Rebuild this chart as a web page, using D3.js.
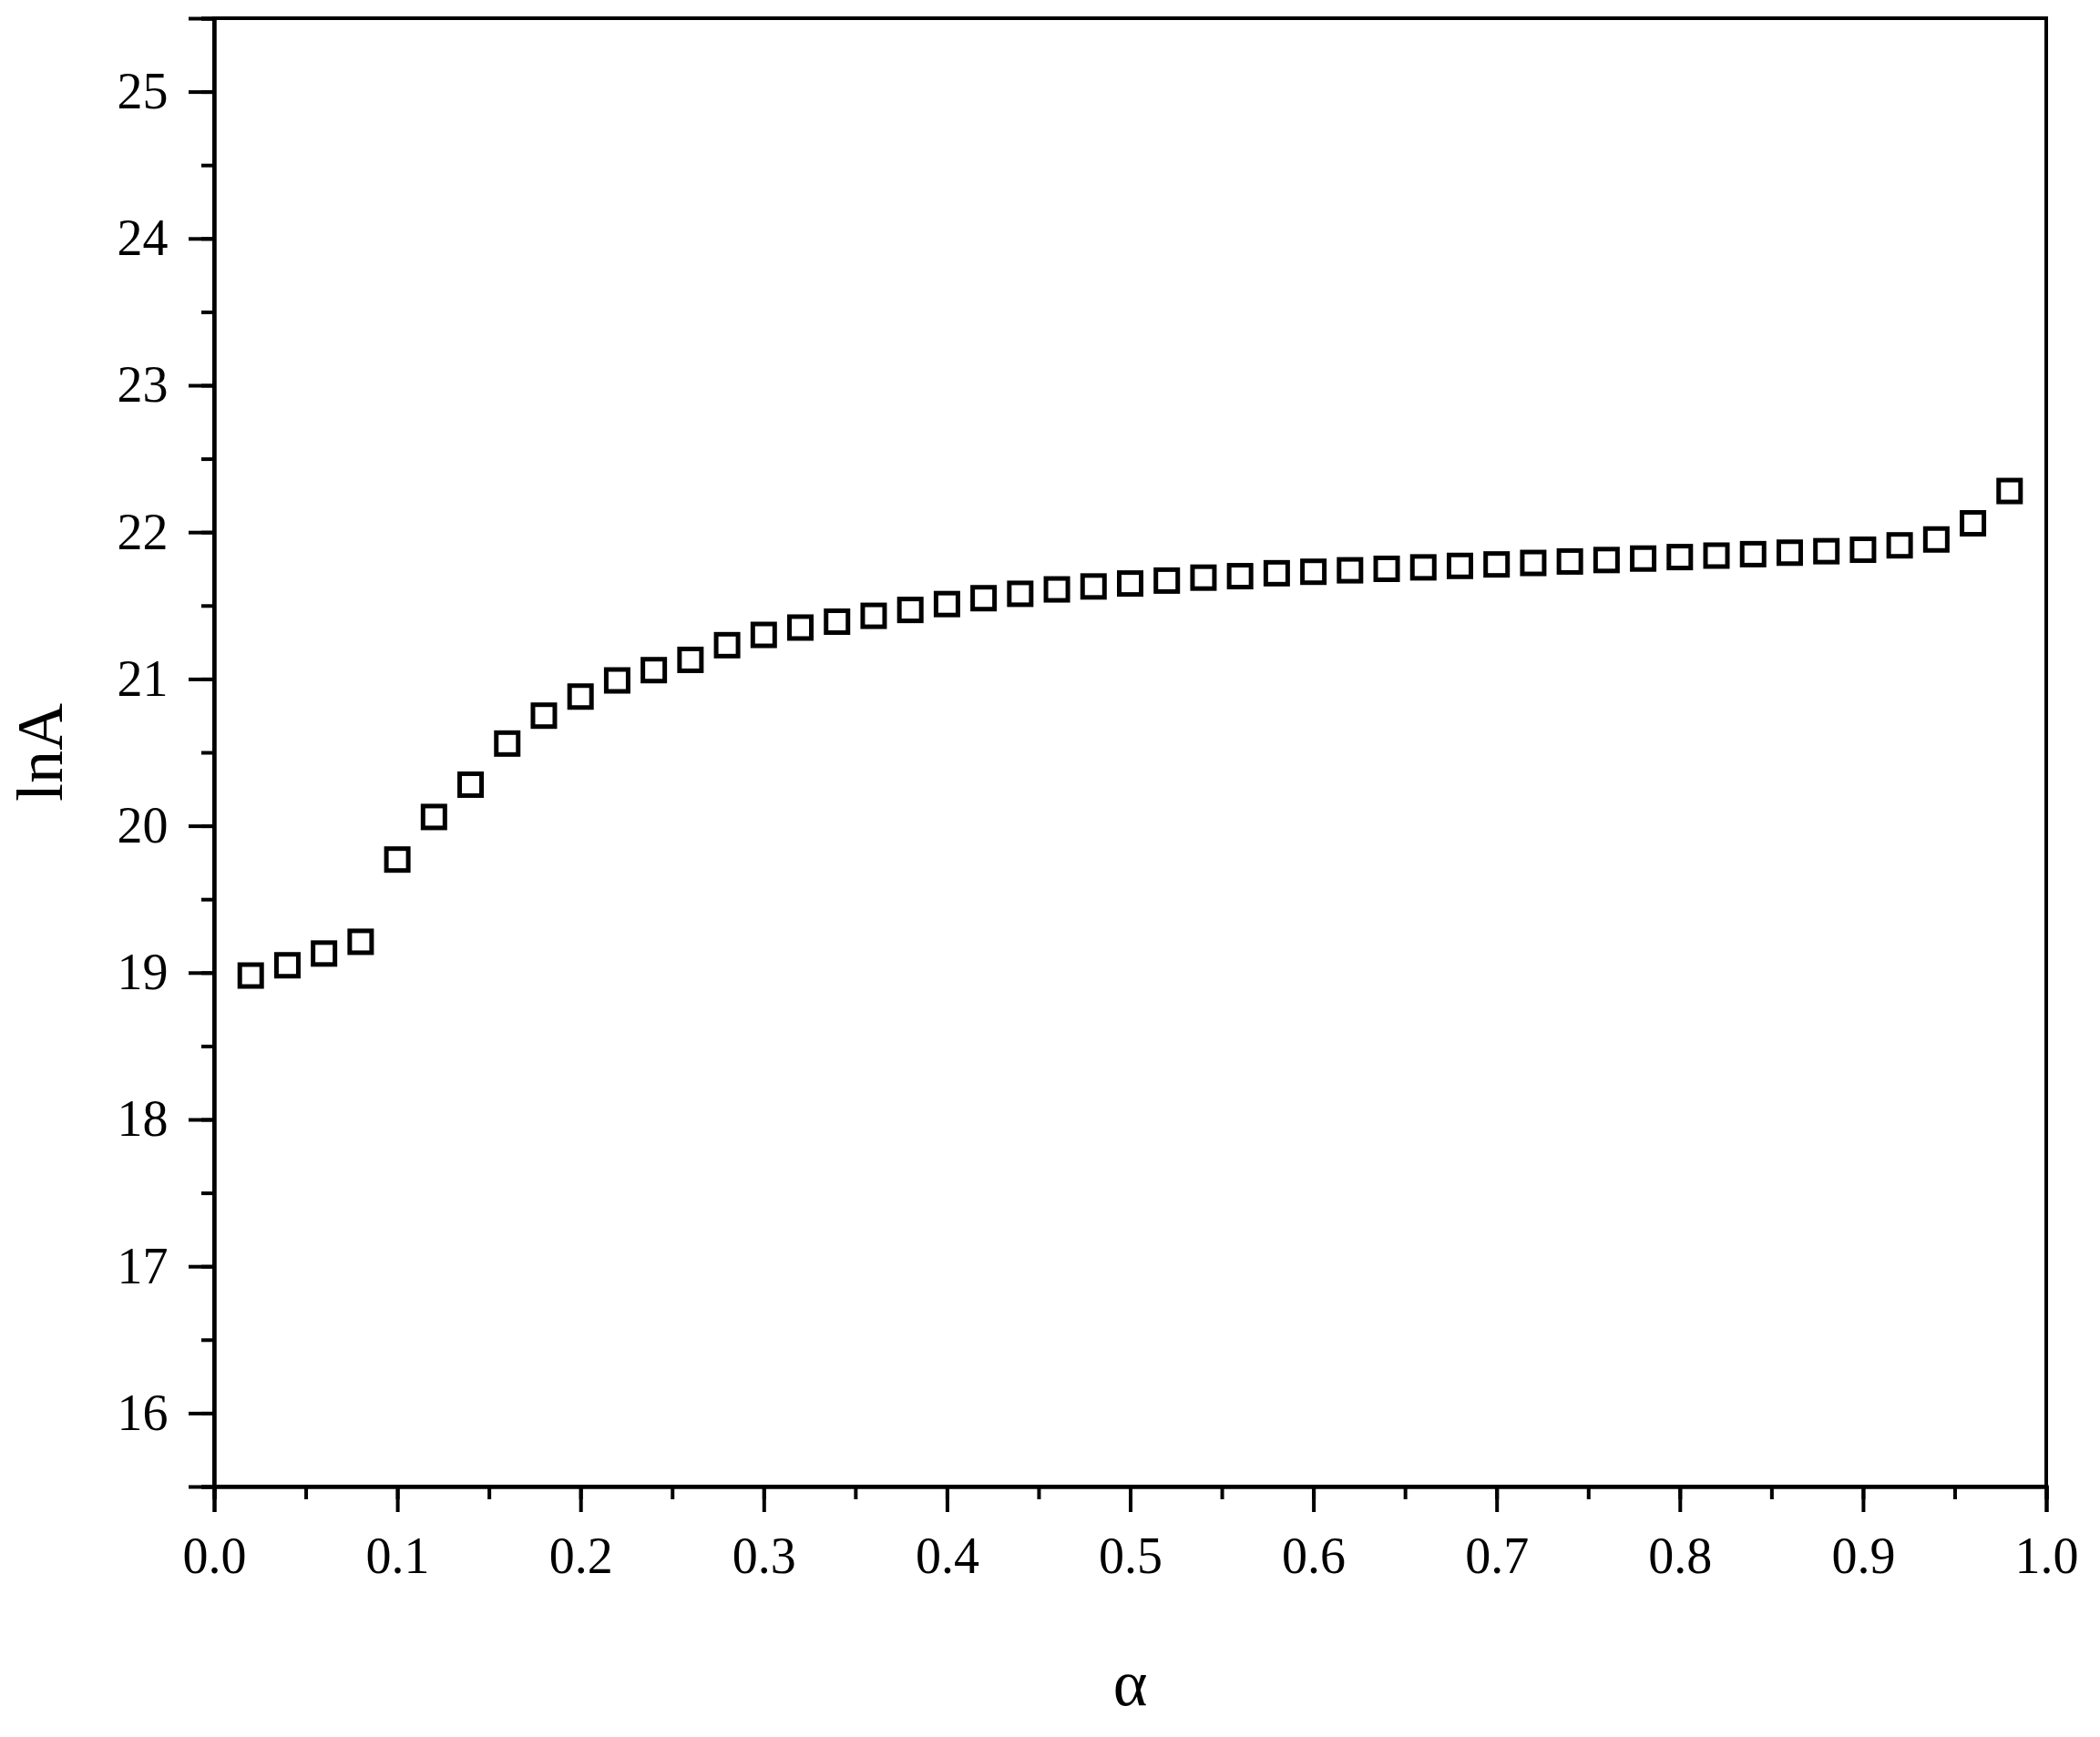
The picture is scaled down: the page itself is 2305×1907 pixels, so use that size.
<!DOCTYPE html>
<html>
<head>
<meta charset="utf-8">
<script src="https://cdn.jsdelivr.net/npm/d3@7"></script>
<style>
  body { margin: 0; background: #fff; }
  text { font-family: "Liberation Serif", "Times New Roman", serif; fill: #000; }
</style>
</head>
<body>
<svg></svg>
<script>
const alphaValues = d3.range(1, 50).map(i => +(i * 0.02).toFixed(2));
const lnAValues = [18.98, 19.05, 19.13, 19.21, 19.77, 20.06, 20.28, 20.56, 20.75, 20.88,
  20.99, 21.06, 21.13, 21.23, 21.30, 21.35, 21.39, 21.43, 21.47, 21.51,
  21.55, 21.58, 21.61, 21.63, 21.65, 21.67, 21.69, 21.70, 21.72, 21.73,
  21.74, 21.75, 21.76, 21.77, 21.78, 21.79, 21.80, 21.81, 21.82, 21.83,
  21.84, 21.85, 21.86, 21.87, 21.88, 21.91, 21.95, 22.06, 22.28];
const xTicks = d3.range(0, 11).map(i => i / 10);
const yTicks = d3.range(16, 26);

const width = 2305, height = 1907;
const mLeft = 235, mRight = 2246, mTop = 20, mBottom = 1632;

const svg = d3.select("svg").attr("width", width).attr("height", height);

const x = d3.scaleLinear().domain([0, 1]).range([mLeft, mRight]);
const y = d3.scaleLinear().domain([15.5, 25.5]).range([mBottom, mTop]);

// frame
svg.append("rect")
  .attr("x", mLeft).attr("y", mTop)
  .attr("width", mRight - mLeft).attr("height", mBottom - mTop)
  .attr("fill", "none").attr("stroke", "#000").attr("stroke-width", 4);

// x axis
const xAxis = svg.append("g").attr("transform", `translate(0,${mBottom})`);
xAxis.append("g").call(d3.axisBottom(x).tickValues(d3.range(0, 21).map(i => i * 0.05)).tickSize(14).tickFormat(""));
xAxis.append("g").call(d3.axisBottom(x).tickValues(xTicks).tickSize(28).tickFormat(d3.format(".1f")));
xAxis.selectAll("text").attr("font-size", 56).attr("dy", "1.15em");

// y axis
const yAxis = svg.append("g").attr("transform", `translate(${mLeft},0)`);
yAxis.append("g").call(d3.axisLeft(y).tickValues(d3.range(31, 52).map(i => i / 2)).tickSize(14).tickFormat(""));
yAxis.append("g").call(d3.axisLeft(y).tickValues(yTicks).tickSize(28).tickFormat(d3.format("d")));
yAxis.selectAll("text").attr("font-size", 56).attr("dx", "-0.35em");

svg.selectAll("path.domain").attr("stroke-width", 4);
svg.selectAll(".tick line").attr("stroke-width", 4);

// markers
const s = 24;
svg.selectAll("rect.pt")
  .data(alphaValues.map((a, i) => [a, lnAValues[i]]))
  .enter().append("rect")
  .attr("class", "pt")
  .attr("x", d => x(d[0]) - s / 2)
  .attr("y", d => y(d[1]) - s / 2)
  .attr("width", s).attr("height", s)
  .attr("fill", "none").attr("stroke", "#000").attr("stroke-width", 5);

// labels
svg.append("text").attr("x", (mLeft + mRight) / 2).attr("y", 1872)
  .attr("text-anchor", "middle").attr("font-size", 72).text("α");
svg.append("text")
  .attr("transform", `translate(68,${(mTop + mBottom) / 2}) rotate(-90)`)
  .attr("text-anchor", "middle").attr("font-size", 72).text("lnA");
</script>
</body>
</html>
